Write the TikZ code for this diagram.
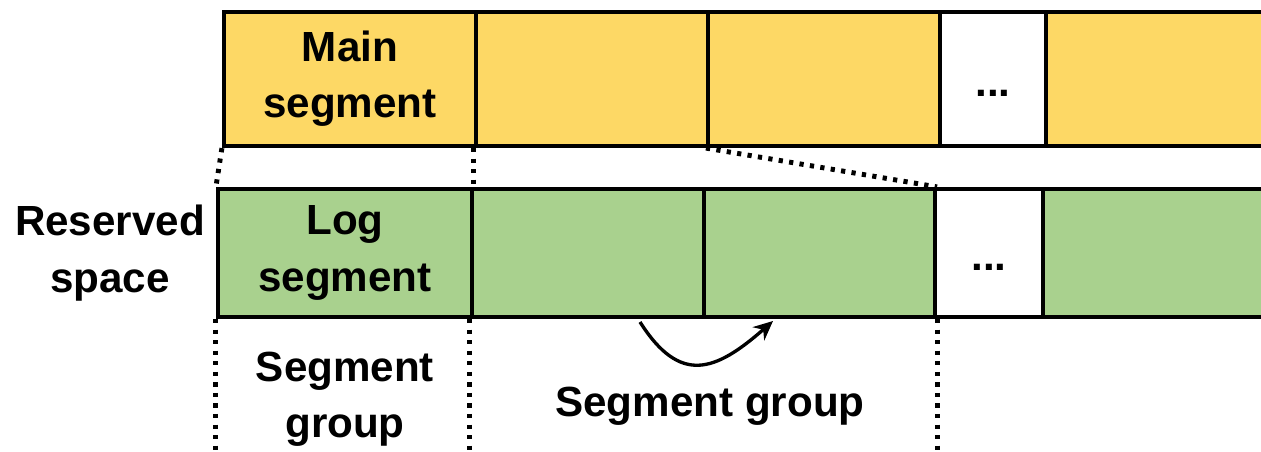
\documentclass[tikz,border=0pt]{standalone}
\usepackage{fontspec}
\setmainfont{Liberation Sans}
\usepackage{xcolor}
\usepackage{tikz}
\usetikzlibrary{arrows, arrows.meta}

\definecolor{segyellow}{HTML}{FDD865}
\definecolor{seggreen}{HTML}{A9D18E}

\tikzset{
	mainbox/.style={rectangle, draw=black, line width=2.4pt, fill=segyellow, inner sep=0pt, minimum height=2.68cm, align=center},
	logbox/.style={rectangle, draw=black, line width=2.4pt, fill=seggreen, inner sep=0pt, minimum height=2.56cm, align=center},
	dotsbox/.style={fill=white},
	dotline/.style={line width=2.8pt, dash pattern=on 2.4pt off 3.6pt},
	lbl/.style={align=center, inner sep=0pt}
}

\begin{document}
\begin{tikzpicture}[x=0.02cm, y=-0.02cm, font=\fontsize{24}{32}\selectfont\bfseries]
			\useasboundingbox (0,0) rectangle (1261,452);
			\clip (0,0) rectangle (1261,452);
			\coordinate (base) at (0,452);
			% main segments (top row)
			\node[mainbox, minimum width=5.04cm] (main1) at (350,79){Main\\segment};
			\node[mainbox, minimum width=4.64cm] (main2) at (592,79){};
			\node[mainbox, minimum width=4.64cm] (main3) at (824,79){};
			\node[mainbox, dotsbox, minimum width=2.12cm] (maindots) at (993,79){\strut\raisebox{-0.12cm}{...}};
			\node[mainbox, minimum width=5.08cm] (main5) at (1173,79){};
			% log segments (bottom row)
			\node[logbox, minimum width=5.08cm] (log1) at (345,253){Log\\segment};
			\node[logbox, minimum width=4.64cm] (log2) at (588,253){};
			\node[logbox, minimum width=4.62cm] (log3) at (819.5,253){};
			\node[logbox, dotsbox, minimum width=2.16cm] (logdots) at (989,253){\strut\raisebox{-0.12cm}{...}};
			\node[logbox, minimum width=5.14cm] (log5) at (1171.5,253){};
			% dotted guides
			\draw[dotline] (main1.south west) -- (log1.north west);
			\draw[dotline] (main2.south west) -- (main2.south west |- log2.north);
			\draw[dotline] (main3.south west) -- (log3.north east);
			\draw[dotline] (log1.south west) -- (log1.south west |- base);
			\draw[dotline] (log2.south west) -- (log2.south west |- base);
			\draw[dotline] (log3.south east) -- (log3.south east |- base);
			% labels
			\node[lbl] (reserved) at (110,253){Reserved\\space};
			\node[lbl] (group1) at (345,399){Segment\\group};
			\node[lbl] (group2) at (710,406){Segment group};
			\coordinate (gfrom) at (640,322);
			\coordinate (gto) at (773,321);
			\draw[line width=1.9pt, -{Stealth[length=11pt, width=10pt]}] (gfrom) .. controls (680,385) and (715,372) .. (gto);
		\end{tikzpicture}
\end{document}
